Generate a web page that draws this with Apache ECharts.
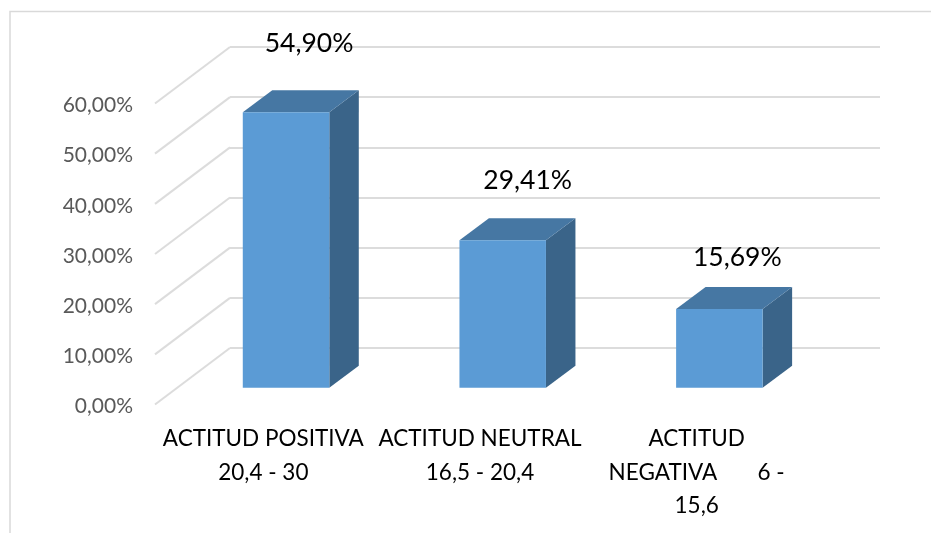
<!DOCTYPE html>
<html>
<head>
<meta charset="utf-8">
<style>
html, body { margin: 0; padding: 0; background: #fff; }
#chart { width: 931px; height: 533px; }
</style>
<script src="https://cdn.jsdelivr.net/npm/echarts@6/dist/echarts.min.js"></script>
</head>
<body>
<div id="chart"></div>
<script>
// 数据
const categories = ['ACTITUD POSITIVA\n20,4 - 30', 'ACTITUD NEUTRAL\n16,5 - 20,4', 'ACTITUD\nNEGATIVA       6 -\n15,6'];
const values = [54.9, 29.41, 15.69];
const valueLabels = ['54,90%', '29,41%', '15,69%'];
const yTicks = [0, 10, 20, 30, 40, 50, 60];

// 立体效果的偏移量（像素）
const wallDx = -75, wallDy = 56.5;   // 后墙 -> 前沿
const barDx = -52.3, barDy = 39.7;   // 后墙 -> 柱子正面
const depthDx = 29.5, depthDy = -22; // 柱子厚度
const barWidth = 86.5;
const labelDx = [23, 25, 18];
const labelDy = [-68.5, -60, -52];

const chart = echarts.init(document.getElementById('chart'));

function renderWall(params, api) {
    const v = api.value(0);
    const y = api.coord([0, v])[1];
    const x = params.coordSys.x;
    return {
        type: 'line',
        silent: true,
        shape: { x1: x, y1: y, x2: x + wallDx, y2: y + wallDy },
        style: { stroke: '#dcdcdc', lineWidth: 2, fill: null }
    };
}

function renderBar(params, api) {
    const i = api.value(0);
    const base = api.coord([i, 0]);
    const top = api.coord([i, api.value(1)]);
    const x0 = base[0] + barDx - barWidth / 2;
    const x1 = x0 + barWidth;
    const yb = base[1] + barDy;
    const yt = top[1] + barDy;
    return {
        type: 'group',
        children: [
            {
                type: 'polygon',
                shape: { points: [[x1, yb], [x1 + depthDx, yb + depthDy], [x1 + depthDx, yt + depthDy], [x1, yt]] },
                style: { fill: '#3a6489' }
            },
            {
                type: 'polygon',
                shape: { points: [[x0, yt], [x0 + depthDx, yt + depthDy], [x1 + depthDx, yt + depthDy], [x1, yt]] },
                style: { fill: '#4677a3' }
            },
            {
                type: 'rect',
                shape: { x: x0, y: yt, width: barWidth, height: yb - yt },
                style: { fill: '#5b9bd5' }
            },
            {
                type: 'text',
                style: {
                    text: valueLabels[i],
                    x: base[0] + barDx + labelDx[i],
                    y: top[1] + barDy + labelDy[i],
                    align: 'center',
                    verticalAlign: 'middle',
                    fontFamily: 'Lato',
                    fontSize: 26.5,
                    fill: '#000'
                }
            }
        ]
    };
}

const option = {
    animation: false,
    backgroundColor: '#fff',
    graphic: [{
        // 外框只有上边和左边
        type: 'polyline',
        silent: true,
        z: -1,
        shape: { points: [[931, 11.5], [10, 11.5], [10, 533]] },
        style: { fill: 'none', stroke: '#d9d9d9', lineWidth: 1.5 }
    }],
    grid: [
        // 后墙
        { left: 230, right: 51, top: 47, bottom: 185 },
        // 前沿，只用来放坐标轴文字
        { left: 155, right: 126, top: 105.5, bottom: 126.5 }
    ],
    xAxis: [
        {
            type: 'category',
            gridIndex: 0,
            data: categories,
            axisLine: { show: false },
            axisTick: { show: false },
            axisLabel: { show: false }
        },
        {
            type: 'category',
            gridIndex: 1,
            data: categories,
            axisLine: { show: false },
            axisTick: { show: false },
            axisLabel: {
                interval: 0,
                margin: 15.5,
                fontFamily: 'Lato',
                fontSize: 22.5,
                lineHeight: 33.5,
                color: '#000'
            }
        }
    ],
    yAxis: [
        {
            type: 'value',
            gridIndex: 0,
            min: 0,
            max: 60,
            interval: 10,
            axisLine: { show: false },
            axisTick: { show: false },
            axisLabel: { show: false },
            splitLine: { lineStyle: { color: '#dcdcdc', width: 2 } }
        },
        {
            type: 'value',
            gridIndex: 1,
            min: 0,
            max: 60,
            interval: 10,
            axisLine: { show: false },
            axisTick: { show: false },
            splitLine: { show: false },
            axisLabel: {
                margin: 22,
                fontFamily: 'Lato',
                fontSize: 21,
                color: '#595959',
                formatter: function (value) {
                    return value.toFixed(2).replace('.', ',') + '%';
                }
            }
        }
    ],
    series: [
        {
            type: 'custom',
            xAxisIndex: 0,
            yAxisIndex: 0,
            renderItem: renderWall,
            data: yTicks.map(v => [v]),
            encode: { y: 0 },
            z: 1
        },
        {
            type: 'custom',
            xAxisIndex: 0,
            yAxisIndex: 0,
            renderItem: renderBar,
            data: values.map((v, i) => [i, v]),
            encode: { x: 0, y: 1 },
            clip: false,
            z: 2
        }
    ]
};

chart.setOption(option);
</script>
</body>
</html>
